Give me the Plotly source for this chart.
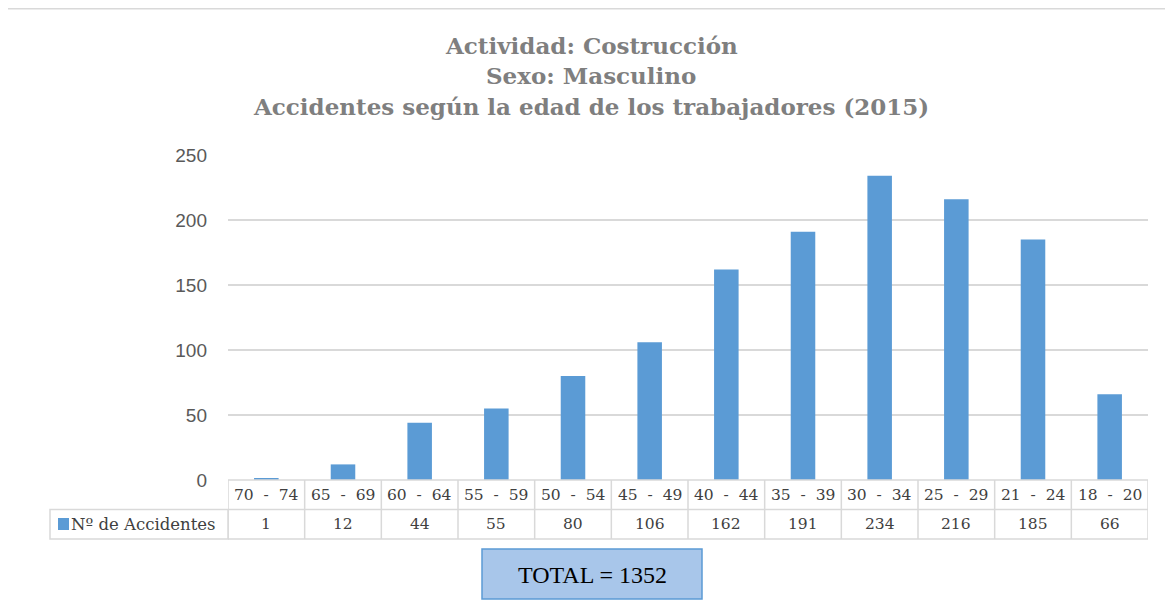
import plotly.graph_objects as go

# datos
edades = ['70 - 74', '65 - 69', '60 - 64', '55 - 59', '50 - 54', '45 - 49',
          '40 - 44', '35 - 39', '30 - 34', '25 - 29', '21 - 24', '18 - 20']
accidentes = [1, 12, 44, 55, 80, 106, 162, 191, 234, 216, 185, 66]
serie = 'Nº de Accidentes'
titulo = ['Actividad: Costrucción', 'Sexo: Masculino',
          'Accidentes según la edad de los trabajadores (2015)']
y_ticks = [0, 50, 100, 150, 200, 250]

# la pagina tiene 8px de margen, se compensa
OFF = 8
W, H = 1173 - OFF, 609 - OFF
L, T = 228 - OFF, 155 - OFF
R = W - (1148 - OFF)
B = H - (480 - OFF)
pw, ph = W - L - R, H - T - B

def px(x):
    return (x - OFF - L) / pw

def py(y):
    return (H - B - (y - OFF)) / ph

azul = '#5B9BD5'
gris_linea = '#D9D9D9'
serif = 'DejaVu Serif'
fs_tabla = 15.5

fig = go.Figure()
fig.add_trace(go.Bar(x=edades, y=accidentes, name=serie,
                     marker=dict(color=azul, line=dict(width=0)),
                     width=0.32, showlegend=False))

fig.update_layout(
    width=W, height=H,
    margin=dict(l=L, r=R, t=T, b=B),
    plot_bgcolor='white', paper_bgcolor='white',
    xaxis=dict(showticklabels=False, ticks='', showgrid=False, showline=False,
               zeroline=False, categoryorder='array', categoryarray=edades,
               range=[-0.5, len(edades) - 0.5]),
    yaxis=dict(range=[0, 250], tickvals=y_ticks, showgrid=True, gridcolor=gris_linea,
               gridwidth=1.5, zeroline=False, showline=False, ticks='',
               ticklabelstandoff=20,
               tickfont=dict(family='Liberation Sans', size=19, color='#595959')),
)

shapes = []
annotations = []

# marco exterior
shapes.append(dict(type='rect', xref='paper', yref='paper',
                   x0=px(5), x1=px(1200), y0=py(8.8), y1=py(640),
                   line=dict(color=gris_linea, width=1.5), layer='below'))

# titulo
for txt, yy in zip(titulo, [45, 75, 106]):
    annotations.append(dict(text='<b>' + txt + '</b>', xref='paper', yref='paper',
                            x=px(591), y=py(yy), showarrow=False,
                            xanchor='center', yanchor='middle',
                            font=dict(family=serif, size=23, color='#7F7F7F')))

# tabla de datos
r0, r1, r2 = py(480), py(509.5), py(539)
n = len(edades)
for yy in [r0, r1, r2]:
    shapes.append(dict(type='line', xref='x', yref='paper', x0=-0.5, x1=n - 0.5,
                       y0=yy, y1=yy, line=dict(color=gris_linea, width=1.5)))
for i in range(n + 1):
    shapes.append(dict(type='line', xref='x', yref='paper', x0=i - 0.5, x1=i - 0.5,
                       y0=r0, y1=r2, line=dict(color=gris_linea, width=1.5)))
# celda de la leyenda
shapes.append(dict(type='rect', xref='paper', yref='paper', x0=px(50), x1=0,
                   y0=r1, y1=r2, line=dict(color=gris_linea, width=1.5)))
shapes.append(dict(type='rect', xref='paper', yref='paper', x0=px(58), x1=px(69),
                   y0=py(530), y1=py(518), fillcolor=azul, line=dict(width=0)))
annotations.append(dict(text=serie, xref='paper', yref='paper', x=px(69),
                        y=(r1 + r2) / 2, showarrow=False, xanchor='left',
                        yanchor='middle',
                        font=dict(family=serif, size=16.5, color='#404040')))

for e, v in zip(edades, accidentes):
    annotations.append(dict(text=e.replace(' ', '&nbsp;&nbsp;'), xref='x', yref='paper',
                            x=e, y=(r0 + r1) / 2, showarrow=False, yanchor='middle',
                            font=dict(family=serif, size=fs_tabla, color='#404040')))
    annotations.append(dict(text=str(v), xref='x', yref='paper', x=e,
                            y=(r1 + r2) / 2, showarrow=False, yanchor='middle',
                            font=dict(family=serif, size=fs_tabla, color='#404040')))

# cuadro del total
total = sum(accidentes)
shapes.append(dict(type='rect', xref='paper', yref='paper', x0=px(482), x1=px(702),
                   y0=py(599), y1=py(549), fillcolor='#A8C6EA',
                   line=dict(color=azul, width=1.5)))
annotations.append(dict(text='TOTAL = ' + str(total), xref='paper', yref='paper',
                        x=px(592), y=py(575), showarrow=False, xanchor='center',
                        yanchor='middle',
                        font=dict(family='Liberation Serif', size=24, color='black')))

fig.update_layout(shapes=shapes, annotations=annotations)
fig.write_html('out.html')
